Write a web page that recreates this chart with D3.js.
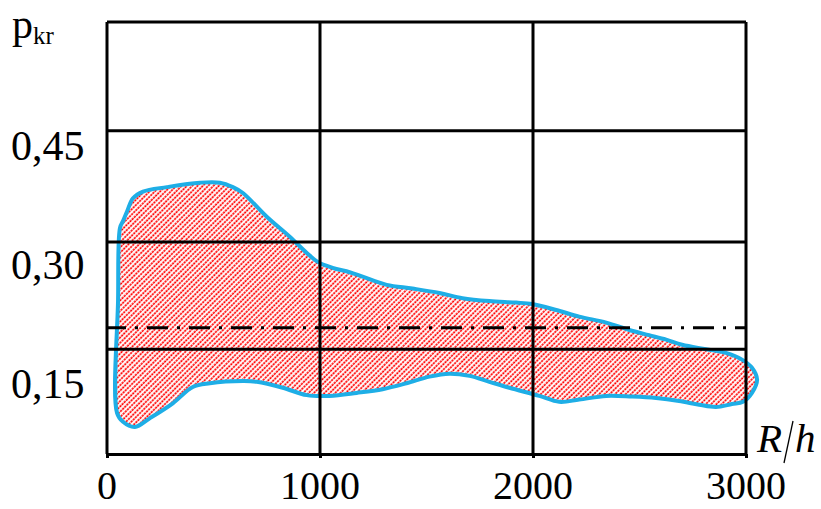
<!DOCTYPE html>
<html>
<head>
<meta charset="utf-8">
<script src="https://d3js.org/d3.v7.min.js"></script>
<style>
  body { margin: 0; background: #fff; }
  text { font-family: "Liberation Serif", "Times New Roman", serif; fill: #000; }
</style>
</head>
<body>
<svg id="chart" width="821" height="509"></svg>
<script>
// axis values
var xTicks = [0, 1000, 2000, 3000];
var xTickLabels = ["0", "1000", "2000", "3000"];
var yGrid = [0.45, 0.30, 0.155];
var yTickLabels = ["0,45", "0,30", "0,15"];
var yLabelAt = [0.411, 0.250, 0.089];   // where the labels sit (baseline)
var refLevel = 0.184;                     // dash-dot line

// upper edge of the region, left to right (R/h, p_kr), round the right end
var upperX = [47, 52, 61, 75, 94, 122, 169, 281, 436, 530, 591, 638, 750, 858, 938, 989,
  1059, 1139, 1200, 1313, 1434, 1561, 1669, 1795, 1922, 1997, 2109, 2217, 2344, 2452,
  2545, 2625, 2700, 2813, 2906, 2981, 3028, 3052, 3028, 2986];
var upperP = [0.069, 0.222, 0.319, 0.328, 0.341, 0.359, 0.368, 0.374, 0.380, 0.380, 0.374, 0.366,
  0.334, 0.307, 0.285, 0.273, 0.265, 0.259, 0.253, 0.242, 0.237, 0.231, 0.224, 0.220, 0.218,
  0.216, 0.208, 0.199, 0.191, 0.181, 0.174, 0.168, 0.161, 0.155, 0.150, 0.141, 0.130, 0.114,
  0.096, 0.084];
// lower edge, right to left
var lowerX = [2934, 2859, 2780, 2686, 2578, 2466, 2344, 2217, 2123, 2030, 1889, 1795, 1702,
  1608, 1514, 1406, 1294, 1172, 1045, 938, 825, 703, 638, 483, 403, 309, 202, 131, 75];
var lowerP = [0.081, 0.077, 0.080, 0.085, 0.089, 0.091, 0.092, 0.087, 0.084, 0.092, 0.103,
  0.111, 0.119, 0.122, 0.118, 0.109, 0.101, 0.096, 0.092, 0.093, 0.103, 0.111, 0.112, 0.109,
  0.104, 0.082, 0.062, 0.050, 0.057];

var svg = d3.select("#chart");

var x = d3.scaleLinear().domain([0, 3000]).range([107, 746]);
var y = d3.scaleLinear().domain([0.0135, 0.597]).range([454, 22]);

// hatch pattern: dotted red diagonals
var defs = svg.append("defs");
var pat = defs.append("pattern")
    .attr("id", "hatch")
    .attr("patternUnits", "userSpaceOnUse")
    .attr("width", 3.75)
    .attr("height", 3)
    .attr("patternTransform", "rotate(45)");
pat.append("rect")
    .attr("x", 0.3).attr("y", 0)
    .attr("width", 1.7).attr("height", 2.3)
    .attr("fill", "#ff0000");

var pts = [];
upperX.forEach(function(v, i) { pts.push([v, upperP[i]]); });
lowerX.forEach(function(v, i) { pts.push([v, lowerP[i]]); });

var area = d3.line()
    .x(function(d) { return x(d[0]); })
    .y(function(d) { return y(d[1]); })
    .curve(d3.curveCatmullRomClosed.alpha(0.5));

svg.append("path")
    .datum(pts)
    .attr("d", area)
    .attr("fill", "url(#hatch)")
    .attr("stroke", "#1eaee6")
    .attr("stroke-width", 4)
    .attr("stroke-linejoin", "round");

// dash-dot reference
svg.append("line")
    .attr("x1", x(0)).attr("x2", x(3000))
    .attr("y1", y(refLevel)).attr("y2", y(refLevel))
    .attr("stroke", "#000")
    .attr("stroke-width", 3)
    .attr("stroke-dasharray", "21,9,3,9")
    .attr("stroke-dashoffset", 2);

// grid
var g = svg.append("g").attr("stroke", "#000").attr("stroke-width", 3);
g.selectAll("line.h")
    .data(yGrid.concat([y.domain()[1]]))
    .enter().append("line")
    .attr("class", "h")
    .attr("x1", x(0)).attr("x2", x(3000))
    .attr("y1", function(d) { return y(d); })
    .attr("y2", function(d) { return y(d); });
g.selectAll("line.v")
    .data(xTicks)
    .enter().append("line")
    .attr("class", "v")
    .attr("x1", function(d) { return x(d); })
    .attr("x2", function(d) { return x(d); })
    .attr("y1", y.range()[1])
    .attr("y2", y.range()[0]);

// bottom axis with small ticks
var xAxis = svg.append("g")
    .attr("transform", "translate(0," + y.range()[0] + ")")
    .call(d3.axisBottom(x).tickValues(xTicks).tickSize(4).tickSizeOuter(0).tickFormat(""));
xAxis.selectAll("path, line").attr("stroke", "#000").attr("stroke-width", 3);

svg.selectAll("text.xl")
    .data(xTicks)
    .enter().append("text")
    .attr("class", "xl")
    .attr("x", function(d) { return x(d); })
    .attr("y", 499)
    .attr("text-anchor", "middle")
    .attr("font-size", 40)
    .text(function(d, i) { return xTickLabels[i]; });

svg.selectAll("text.yl")
    .data(yLabelAt)
    .enter().append("text")
    .attr("class", "yl")
    .attr("x", 11)
    .attr("y", function(d) { return y(d); })
    .attr("font-size", 42)
    .text(function(d, i) { return yTickLabels[i]; });

// axis titles
var yt = svg.append("text").attr("x", 12).attr("y", 38).attr("font-size", 42);
yt.append("tspan").text("p");
yt.append("tspan").attr("font-size", 25).attr("dy", 6).text("kr");

svg.append("text").attr("x", 757).attr("y", 452)
    .attr("font-size", 41).attr("font-style", "italic").text("R");
svg.append("line")
    .attr("x1", 784).attr("y1", 463).attr("x2", 793).attr("y2", 421)
    .attr("stroke", "#000").attr("stroke-width", 1.3);
svg.append("text").attr("x", 795).attr("y", 452)
    .attr("font-size", 41).attr("font-style", "italic").text("h");
</script>
</body>
</html>
